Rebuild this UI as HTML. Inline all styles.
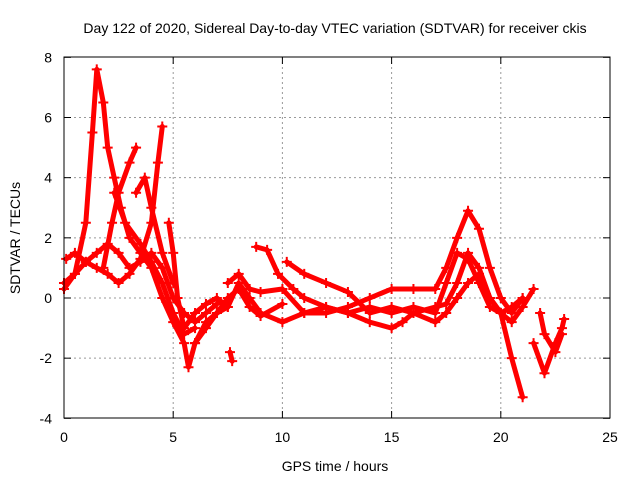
<!DOCTYPE html>
<html><head><meta charset="utf-8"><style>
body{margin:0;background:#fff;}
svg text{font-family:"Liberation Sans",sans-serif;font-size:14px;fill:#000;}
</style></head><body>
<svg id="chart" width="640" height="480">
<text x="335" y="33" text-anchor="middle">Day 122 of 2020, Sidereal Day-to-day VTEC variation (SDTVAR) for receiver ckis</text>
<text x="335" y="471" text-anchor="middle">GPS time / hours</text>
<text transform="translate(20,238) rotate(-90)" text-anchor="middle">SDTVAR / TECUs</text>
<g id="grid"></g><g id="marks"></g>
<rect x="64" y="57" width="546" height="361" fill="none" stroke="#000" stroke-width="1"/>
</svg>
<script>
const xTicks=[0,5,10,15,20,25];
const yTicks=[-4,-2,0,2,4,6,8];
const A_t=[0,0.5,1.0,1.3,1.5,1.8,2.0,2.3,2.6,3.0,3.5,4.0,4.5,5.0,5.5,5.7,6.0,6.5,7.0,7.5];
const A_v=[0.5,0.8,2.5,5.5,7.6,6.5,5.0,4.0,3.0,2.0,1.5,1.0,0.0,-0.8,-1.5,-2.3,-1.5,-0.8,-0.5,-0.3];
const B_t=[0.1,0.5,1.0,1.5,2.0,2.5,3.0,3.5,4.0,4.3,4.5];
const B_v=[1.3,1.5,1.2,1.0,0.8,0.5,0.8,1.3,2.5,4.5,5.7];
const C_t=[1.8,2.2,2.5,3.0,3.3];
const C_v=[1.0,2.5,3.5,4.5,5.0];
const D_t=[2.3,2.8,3.5,4.0,4.5,5.0,5.5,6.0];
const D_v=[3.5,2.5,1.8,1.2,0.5,-0.5,-1.2,-1.0];
const E_t=[3.3,3.7,4.0,4.5,5.0];
const E_v=[3.5,4.0,3.0,1.5,0.5];
const F_t=[4.8,5.0,5.2,5.5,6.0,6.5,7.0,7.5,8.0,8.5,9,10,11,12,13,14,15,16,17,17.5,18,18.5,19,19.5,20,20.5,21];
const F_v=[2.5,1.5,0.0,-1.0,-0.5,-0.2,0.0,-0.3,0.5,0.0,-0.5,-0.8,-0.5,-0.3,-0.5,-0.3,-0.5,-0.3,-0.5,0.5,1.5,1.3,0.5,-0.3,-0.5,-2.0,-3.3];
const G_t=[7.5,8.0,8.5,9,10,11,12,13,14,15,16,17,17.5,18,18.5,19,19.5,20,20.5,21];
const G_v=[0.5,0.8,0.3,0.2,0.3,-0.5,-0.5,-0.3,0.0,0.3,0.3,0.3,1.0,2.0,2.9,2.3,1.0,0.0,-0.5,0.0];
const H_t=[8.8,9.3,9.8,10.5,11,12,13,14,15,15.5,16,17,17.5,18,18.5,19,19.5,20,20.5,21];
const H_v=[1.7,1.6,0.8,0.3,0.0,-0.3,-0.5,-0.8,-1.0,-0.8,-0.5,-0.3,-0.2,0.5,1.5,1.0,0.0,-0.5,-0.3,0.0];
const I_t=[10.2,11,12,13,14,15,16,17,17.5,18,18.5,19,19.5,20,20.5,21,21.5];
const I_v=[1.2,0.8,0.5,0.2,-0.5,-0.3,-0.5,-0.8,-0.5,0.0,0.5,0.8,0.0,-0.5,-0.8,-0.3,0.3];
const J_t=[21.5,22,22.5,22.8,22.9];
const J_v=[-1.5,-2.5,-1.5,-1.0,-0.7];
const K_t=[21.8,22,22.5,22.8];
const K_v=[-0.5,-1.2,-1.8,-1.2];
const L_t=[0,0.5,1,1.5,2.0,2.5,3,3.5,4,4.5,5,5.5,6,6.5,7];
const L_v=[0.3,0.8,1.2,1.5,1.8,1.5,1.0,1.2,1.5,1.0,0.0,-0.5,-0.8,-0.5,-0.2];
const M_t=[6,6.5,7,7.5,8,8.5,9,10];
const M_v=[-1.5,-1,-0.5,0,0.3,-0.3,-0.6,-0.2];
const N_t=[7.6,7.7];
const N_v=[-1.8,-2.1];
const series=[[A_t,A_v],[B_t,B_v],[C_t,C_v],[D_t,D_v],[E_t,E_v],[F_t,F_v],[G_t,G_v],[H_t,H_v],[I_t,I_v],[J_t,J_v],[K_t,K_v],[L_t,L_v],[M_t,M_v],[N_t,N_v]];
const NS="http://www.w3.org/2000/svg";
const X=t=>64+t*546/25;
const Y=v=>298-v*(361/12);
const grid=document.getElementById('grid'), marks=document.getElementById('marks');
function mk(tag,attrs,parent){const e=document.createElementNS(NS,tag);for(const k in attrs)e.setAttribute(k,attrs[k]);parent.appendChild(e);return e;}
xTicks.forEach(t=>{
  if(t>0&&t<25){const g=mk('line',{x1:X(t),x2:X(t),y1:57,y2:418,stroke:'#999','stroke-dasharray':'2,3'},grid);
  
  }
  mk('line',{x1:X(t),x2:X(t),y1:418,y2:411,stroke:'#000'},grid);
  mk('line',{x1:X(t),x2:X(t),y1:57,y2:64,stroke:'#000'},grid);
  const l=mk('text',{x:X(t),y:442,'text-anchor':'middle'},grid);l.textContent=t;
  
  
});
yTicks.forEach(v=>{
  if(v>-4&&v<8){const g=mk('line',{x1:64,x2:610,y1:Y(v),y2:Y(v),stroke:'#999','stroke-dasharray':'2,3'},grid);
  
  }
  mk('line',{x1:64,x2:71,y1:Y(v),y2:Y(v),stroke:'#000'},grid);
  mk('line',{x1:610,x2:603,y1:Y(v),y2:Y(v),stroke:'#000'},grid);
  const l=mk('text',{x:52,y:Y(v)+5,'text-anchor':'end'},grid);l.textContent=v;
  
  
});
series.forEach(([ts,vs],si)=>{
  const d=ts.map((t,i)=>(i?'L':'M')+X(t).toFixed(1)+' '+Y(vs[i]).toFixed(1)).join(' ');
  const p=mk('path',{d:d,fill:'none',stroke:'#f00','stroke-width':5,'stroke-linejoin':'round','stroke-linecap':'round'},marks);
  
  
  ts.forEach((t,i)=>{
    const x=X(t),y=Y(vs[i]);
    const m=mk('path',{d:`M${x-5} ${y}H${x+5}M${x} ${y-5}V${y+5}`,stroke:'#f00','stroke-width':2},marks);
    
    
  });
});
</script>
</body></html>
